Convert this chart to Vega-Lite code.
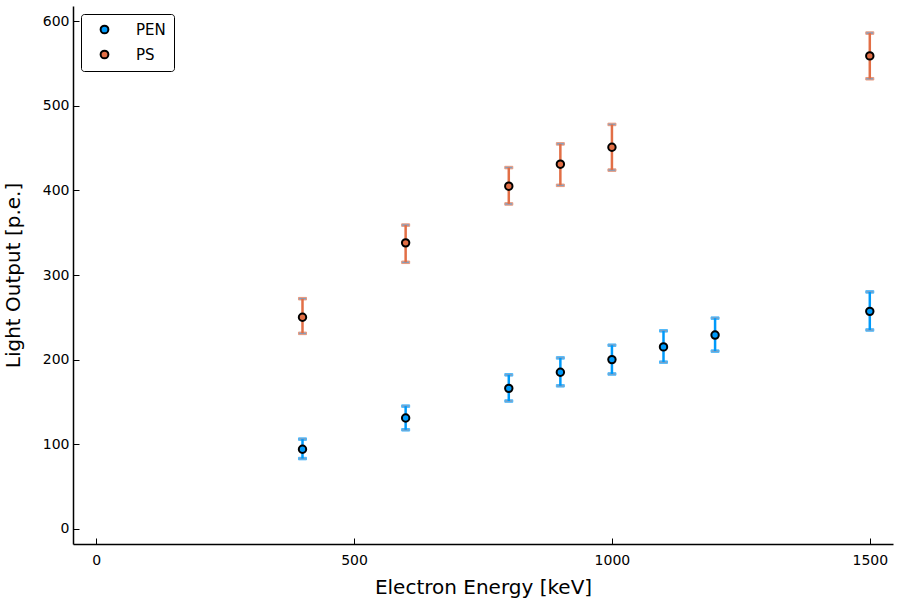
{
  "$schema": "https://vega.github.io/schema/vega-lite/v6.json",
  "autosize": {"type": "none"},
  "width": 820,
  "height": 538,
  "padding": {"left": 73, "top": 6, "right": 7, "bottom": 56},
  "background": "white",
  "config": {
    "font": "DejaVu Sans",
    "view": {"stroke": null},
    "axis": {
      "grid": false,
      "domainColor": "black",
      "domainWidth": 1.5,
      "tickColor": "black",
      "tickWidth": 1,
      "tickSize": -6,
      "labelColor": "black",
      "labelFontSize": 14,
      "labelFont": "DejaVu Sans",
      "titleFont": "DejaVu Sans",
      "titleFontSize": 20,
      "titleFontWeight": "normal",
      "titleColor": "black",
      "format": "d"
    }
  },
  "data": {
    "values": [
      {"energy": 400, "value": 94, "lo": 83, "hi": 106, "material": "PEN"},
      {"energy": 600, "value": 131, "lo": 117, "hi": 145, "material": "PEN"},
      {"energy": 800, "value": 166, "lo": 151, "hi": 182, "material": "PEN"},
      {"energy": 900, "value": 185, "lo": 169, "hi": 202, "material": "PEN"},
      {"energy": 1000, "value": 200, "lo": 183, "hi": 217, "material": "PEN"},
      {"energy": 1100, "value": 215, "lo": 197, "hi": 234, "material": "PEN"},
      {"energy": 1200, "value": 229, "lo": 210, "hi": 249, "material": "PEN"},
      {"energy": 1500, "value": 257, "lo": 235, "hi": 280, "material": "PEN"},
      {"energy": 400, "value": 250, "lo": 231, "hi": 272, "material": "PS"},
      {"energy": 600, "value": 338, "lo": 315, "hi": 359, "material": "PS"},
      {"energy": 800, "value": 405, "lo": 384, "hi": 427, "material": "PS"},
      {"energy": 900, "value": 431, "lo": 406, "hi": 455, "material": "PS"},
      {"energy": 1000, "value": 451, "lo": 424, "hi": 478, "material": "PS"},
      {"energy": 1500, "value": 559, "lo": 532, "hi": 586, "material": "PS"}
    ]
  },
  "encoding": {
    "x": {
      "field": "energy",
      "type": "quantitative",
      "scale": {"domain": [-45, 1545], "nice": false, "zero": false},
      "axis": {"values": [0, 500, 1000, 1500], "title": "Electron Energy [keV]", "labelPadding": 15, "titlePadding": 10}
    }
  },
  "layer": [
    {
      "mark": {"type": "errorbar", "ticks": {"size": 8, "thickness": 2.5}, "thickness": 2.5},
      "encoding": {
        "y": {
          "field": "lo",
          "type": "quantitative",
          "scale": {"domain": [-18, 618], "nice": false, "zero": false},
          "axis": {"values": [0, 100, 200, 300, 400, 500, 600], "title": "Light Output [p.e.]", "labelPadding": 10, "titlePadding": 19}
        },
        "y2": {"field": "hi"},
        "stroke": {
          "field": "material",
          "type": "nominal",
          "scale": {"domain": ["PEN", "PS"], "range": ["#009AFA", "#E26F46"]},
          "legend": null
        }
      }
    },
    {
      "mark": {"type": "point", "shape": "circle", "filled": true, "size": 55, "stroke": "black", "strokeWidth": 2, "opacity": 1},
      "encoding": {
        "y": {"field": "value", "type": "quantitative"},
        "fill": {
          "field": "material",
          "type": "nominal",
          "scale": {"domain": ["PEN", "PS"], "range": ["#009AFA", "#E26F46"]},
          "legend": {
            "title": null,
            "orient": "top-left",
            "offset": 8,
            "padding": 8,
            "rowPadding": 8,
            "strokeColor": "black",
            "cornerRadius": 3,
            "fillColor": "white",
            "labelFontSize": 15,
            "labelFont": "DejaVu Sans",
            "labelColor": "black",
            "labelOffset": 24,
            "symbolOffset": 8,
            "symbolSize": 60,
            "symbolStrokeColor": "black",
            "symbolStrokeWidth": 2,
            "symbolType": "circle",
            "symbolOpacity": 1
          }
        }
      }
    }
  ],
  "resolve": {"legend": {"fill": "independent", "stroke": "independent"}}
}
